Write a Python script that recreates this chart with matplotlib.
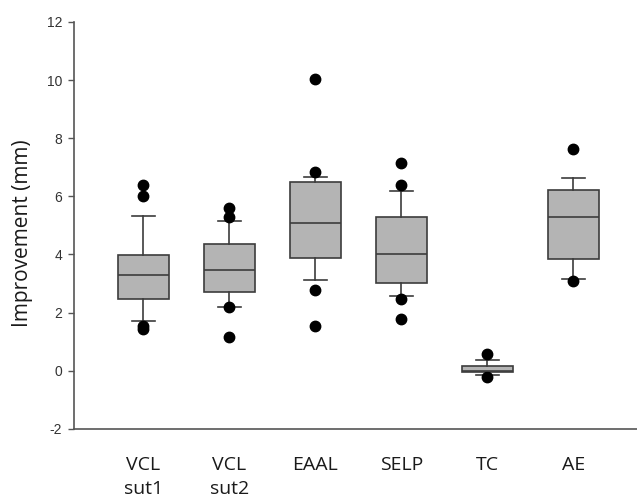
import matplotlib.pyplot as plt

plt.rcParams['axes.unicode_minus'] = False

# box statistics
labels = ["VCL\nsut1", "VCL\nsut2", "EAAL", "SELP", "TC", "AE"]
q1 = [2.47, 2.69, 3.88, 3.03, -0.06, 3.85]
med = [3.30, 3.48, 5.09, 4.02, 0.00, 5.29]
q3 = [3.98, 4.36, 6.50, 5.29, 0.16, 6.22]
whislo = [1.72, 2.19, 3.12, 2.57, -0.14, 3.16]
whishi = [5.33, 5.15, 6.66, 6.19, 0.36, 6.62]
fliers = [
    [6.40, 6.02, 1.55, 1.45],
    [5.59, 5.27, 2.18, 1.16],
    [10.04, 6.82, 2.77, 1.55],
    [7.15, 6.39, 2.46, 1.79],
    [0.57, -0.21],
    [7.64, 3.10],
]

stats = []
for i in range(len(labels)):
    stats.append(dict(q1=q1[i], med=med[i], q3=q3[i], whislo=whislo[i],
                      whishi=whishi[i], fliers=fliers[i], label=labels[i]))

fig = plt.figure(figsize=(6.37, 4.98), dpi=100)
ax = fig.add_axes([0.116, 0.139, 0.884, 0.817])

edge = "#3c3c3c"
ax.bxp(stats, positions=range(1, 7), widths=0.59, patch_artist=True,
       boxprops=dict(facecolor="#b4b4b4", edgecolor=edge, linewidth=1.2),
       medianprops=dict(color=edge, linewidth=1.2),
       whiskerprops=dict(color=edge, linewidth=1.2),
       capprops=dict(color=edge, linewidth=1.2),
       capwidths=0.27,
       flierprops=dict(marker="o", markerfacecolor="black", markeredgecolor="black",
                       markersize=7.5))

ax.set_xlim(0.194, 6.74)
ax.set_ylim(-2, 12)
ax.set_yticks(range(-2, 13, 2))
for s in ["top", "right"]:
    ax.spines[s].set_visible(False)
for s in ["left", "bottom"]:
    ax.spines[s].set_color("#555555")
    ax.spines[s].set_linewidth(1.2)

ax.tick_params(axis="y", direction="out", length=4.5, width=1, color="#555555",
               labelsize=10, labelcolor="#333333", pad=4)
for t in ax.get_yticklabels():
    t.set_family("Liberation Sans")
ax.tick_params(axis="x", length=0, pad=19.5)
ax.set_xticklabels(labels, family="Open Sans", fontsize=14, color="#1a1a1a",
                   linespacing=1.42, va="top")
ax.set_ylabel("Improvement (mm)", family="Open Sans", fontsize=15, color="#1a1a1a")
ax.yaxis.set_label_coords(-0.073, 0.48)

fig.savefig("out.png", dpi=100)
